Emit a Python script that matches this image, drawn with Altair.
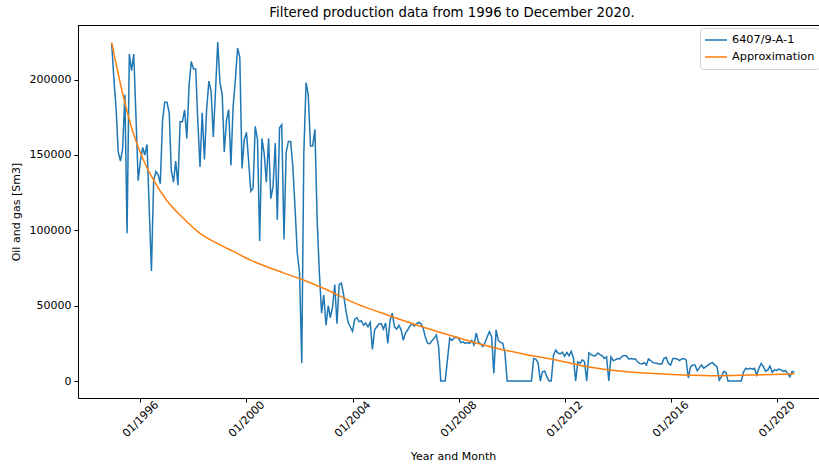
import altair as alt
import pandas as pd

# Monthly oil and gas production for well 6407/9-A-1 [Sm3], starting December 1994
production = [
    224000, 200000, 180000, 152000, 146000, 154000, 190000, 98000, 217000, 206000,
    217000, 175000, 133000, 146000, 155000, 150000, 157000, 115000, 73000, 133000,
    139000, 137000, 131000, 173000, 185000, 185000, 178000, 140000, 132000, 146000,
    130000, 172000, 172000, 180000, 161000, 196000, 212000, 207000, 207000, 173000,
    142000, 178000, 147000, 180000, 199000, 192000, 162000, 193000, 225000, 198000,
    190000, 152000, 173000, 180000, 143000, 182000, 200000, 221000, 215000, 141000,
    160000, 165000, 145000, 126000, 128000, 169000, 160000, 93000, 161000, 151000,
    132000, 161000, 121000, 129000, 158000, 107000, 168000, 170000, 94000, 152000,
    159000, 159000, 142000, 114000, 85000, 72000, 12000, 151000, 198000, 190000,
    156000, 156000, 167000, 107000, 72000, 45000, 57000, 37000, 50000, 42000,
    49000, 64000, 38000, 64000, 65000, 57000, 47000, 39000, 36000, 33000,
    41000, 42000, 39400, 40000, 37000, 38500, 36000, 39000, 21000, 34000,
    36000, 38000, 38000, 34500, 38500, 25000, 40000, 45000, 36000, 34500,
    37000, 34000, 27000, 32000, 34000, 36500, 38000, 36500, 38000, 39000,
    38000, 35000, 29000, 25000, 24800, 27000, 28500, 30600, 22800, 0,
    0, 0, 14000, 28500, 27000, 28500, 29000, 28500, 25500, 26000,
    25000, 25500, 25000, 27000, 24000, 32000, 26000, 24600, 23000, 25600,
    29500, 32800, 29500, 5000, 34000, 27000, 25600, 25000, 18600, 0,
    0, 0, 0, 0, 0, 0, 0, 0, 0, 0,
    0, 15000, 14600, 12000, 0, 6000, 6600, 2900, 0, 0,
    17000, 20600, 18600, 18000, 19000, 16400, 19000, 16800, 19700, 15500,
    0, 12800, 11700, 14000, 12800, 0, 18600, 17500, 16800, 16800,
    18600, 17500, 16800, 15000, 16000, 0, 16000, 13500, 14000, 15000,
    14700, 16400, 17000, 16800, 14700, 15000, 14700, 14700, 12800, 11700,
    11300, 12200, 10600, 14700, 13600, 12200, 12000, 11700, 11300, 11300,
    15000, 15600, 11700, 10600, 15000, 15000, 14700, 13600, 14700, 15000,
    14000, 2000, 9500, 10600, 10600, 6800, 8900, 10600, 8500, 9500,
    10600, 11700, 12200, 10600, 9500, 600, 2900, 6400, 5800, 0,
    0, 0, 0, 0, 0, 0, 6000, 8500, 7900, 8500,
    7900, 8500, 4000, 8500, 11700, 9500, 6400, 7400, 10000, 5800,
    7400, 7000, 7900, 7400, 6400, 7000, 4800, 2900, 6400, 5800,
]
first_month = "1994-12-01"

# Fitted decline curve, sampled at these dates
approx_dates = [
    "1994-12-01", "1995-06-01", "1995-09-24", "1996-02-10", "1996-06-28",
    "1996-12-27", "1997-08-14", "1998-04-01", "1998-11-17", "1999-07-05",
    "2000-02-20", "2000-10-08", "2001-05-23", "2002-01-01", "2002-11-25",
    "2004-02-28", "2005-06-03", "2006-09-06", "2007-12-09", "2009-03-11",
    "2010-06-13", "2011-10-23", "2012-09-16", "2013-12-20", "2015-03-25",
    "2016-06-28", "2017-10-01", "2019-01-01", "2020-09-01",
]
approx_values = [
    224500, 184500, 164600, 146800, 133500,
    120000, 108000, 98000, 91500, 86000,
    80400, 75800, 71800, 68000, 61600,
    51200, 43200, 35700, 29000, 22800,
    17900, 13500, 10000, 6800, 5100,
    4000, 3500, 4000, 4800,
]

series_names = ["6407/9-A-1", "Approximation"]
series_colors = ["#1f77b4", "#ff7f0e"]
tick_years = [1996, 2000, 2004, 2008, 2012, 2016, 2020]

months = pd.date_range(first_month, periods=len(production), freq="MS")
data = pd.concat([
    pd.DataFrame({
        "date": months.strftime("%Y-%m-%d"),
        "value": production,
        "series": series_names[0],
    }),
    pd.DataFrame({
        "date": approx_dates,
        "value": approx_values,
        "series": series_names[1],
    }),
], ignore_index=True)

FONT = "DejaVu Sans"
# the plot box runs 9 px past the right edge of the page
W, H = 750, 373
PAGE_EDGE = 740.5  # last visible pixel column, in plot coordinates
Y_MIN, Y_MAX = -11250, 236250

x_scale = alt.Scale(
    type="utc",
    domain=[
        alt.DateTime(year=1993, month=8, date=24, utc=True),
        alt.DateTime(year=2021, month=12, date=8, utc=True),
    ],
)
y_scale = alt.Scale(domain=[Y_MIN, Y_MAX], nice=False, zero=False)
color_scale = alt.Scale(domain=series_names, range=series_colors)

x_axis = alt.Axis(
    title="Year and Month",
    values=[alt.DateTime(year=y, month=1, date=1, utc=True) for y in tick_years],
    format="%m/%Y",
    labelAngle=-45,
    labelAlign="center",
    labelBaseline="middle",
    labelPadding=17,
    tickSize=4,
    titleY=58,
    titleBaseline="middle",
    grid=False,
)
y_axis = alt.Axis(
    title="Oil and gas [Sm3]",
    values=[0, 50000, 100000, 150000, 200000],
    format="d",
    tickSize=4,
    labelPadding=3,
    titleX=-62,
    titleY=H / 2,
    titleBaseline="middle",
    grid=False,
)
legend = alt.Legend(
    title=None,
    orient="none",
    legendX=622,
    legendY=3,
    symbolType="stroke",
    symbolSize=484,
    symbolStrokeWidth=1.5,
    clipHeight=16,
    labelFontSize=11.3,
    labelFont=FONT,
    labelColor="#000",
    labelOffset=4,
    labelExpr="datum.label + '\u00a0\u00a0\u00a0\u00a0\u00a0\u00a0'",
    rowPadding=1,
    padding=4,
    strokeColor="#d0d0d0",
    fillColor="white",
    cornerRadius=3,
)

# both lines share one encoding, so they share one pair of axes
base = alt.Chart(data).encode(
    x=alt.X("date:T", scale=x_scale, axis=x_axis),
    y=alt.Y("value:Q", scale=y_scale, axis=y_axis),
    color=alt.Color("series:N", scale=color_scale, legend=legend),
)
measured = base.mark_line(strokeWidth=1.5).transform_filter(
    alt.datum.series == series_names[0]
)
fitted = base.mark_line(strokeWidth=1.5, interpolate="monotone").transform_filter(
    alt.datum.series == series_names[1]
)
edges = pd.DataFrame({"edge": ["top"]})
# top frame line of the plot box
top_frame = alt.Chart(edges).mark_rule(color="black", strokeWidth=1).encode(
    x=alt.value(0),
    x2=alt.value(W),
    y=alt.value(0.5),
)
# keep the page's last pixel column blank inside the plot box
edge_mask = alt.Chart(edges).mark_rule(color="white", strokeWidth=1.2).encode(
    x=alt.value(PAGE_EDGE),
    y=alt.value(1),
    y2=alt.value(H - 0.5),
)

chart = (
    alt.layer(measured, fitted, top_frame, edge_mask)
    .resolve_axis(x="shared", y="shared")
    .properties(
        width=W,
        height=H,
        title=alt.TitleParams(
            "Filtered production data from 1996 to December 2020.",
            font=FONT,
            fontSize=13.3,
            fontWeight="normal",
            color="#000",
            anchor="middle",
            dx=-1,
            offset=6,
        ),
        autosize=alt.AutoSizeParams(type="none"),
        padding={"left": 78, "top": 25, "right": -9, "bottom": 68},
        background="white",
    )
    .configure_view(strokeOpacity=0, strokeWidth=0)
    .configure_axis(
        labelFont=FONT,
        titleFont=FONT,
        labelFontSize=11,
        titleFontSize=11,
        titleFontWeight="normal",
        labelColor="#000",
        titleColor="#000",
        domainColor="#000",
        tickColor="#000",
        domainWidth=1,
        tickWidth=1,
    )
)

chart.save("out.html", embed_options={"renderer": "svg", "actions": False})
